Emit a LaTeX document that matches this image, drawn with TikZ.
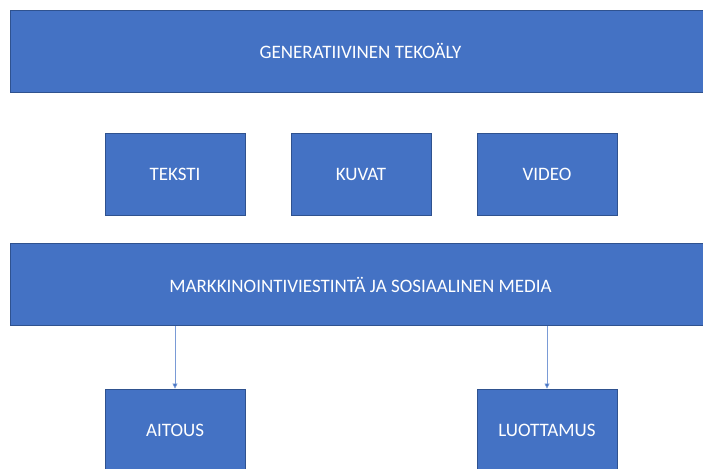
\documentclass[tikz,border=0pt]{standalone}
\usepackage{fontspec}
\setmainfont{Carlito}
\definecolor{boxblue}{HTML}{4472C4}
\definecolor{edgeblue}{HTML}{2F528F}
\definecolor{linkblue}{HTML}{7A9BD6}
\usetikzlibrary{arrows.meta}

\begin{document}
\begin{tikzpicture}[x = 1pt, y = -1pt,
    bar/.style = {draw = edgeblue, fill = boxblue, line width = 0.8pt, text = white,
        minimum width = 701pt, minimum height = 82pt, inner sep = 0pt, font = \fontsize{19}{21}\selectfont},
    item/.style = {draw = edgeblue, fill = boxblue, line width = 0.8pt, text = white,
        minimum width = 140pt, minimum height = 82pt, inner sep = 0pt, font = \fontsize{19}{21}\selectfont},
    link/.style = {draw = linkblue, line width = 0.6pt, -{Triangle[length = 5pt, width = 5pt, fill = boxblue]}}]
    \useasboundingbox (0,0) rectangle (703,468);
    \node [bar] (GEN) at (360.5,51) {GENERATIIVINEN TEKOÄLY};
    \node [item] (TEKSTI) at (175,174) {TEKSTI};
    \node [item] (KUVAT) at (361,174) {KUVAT};
    \node [item] (VIDEO) at (547,174) {VIDEO};
    \node [bar] (MARK) at (360.5,284.5) {MARKKINOINTIVIESTINTÄ JA SOSIAALINEN MEDIA};
    \node [item] (AITOUS) at (175,430) {AITOUS};
    \node [item] (LUOTTAMUS) at (547,430) {LUOTTAMUS};
    \draw [link] (MARK.south -| AITOUS.north) -- (AITOUS.north);
    \draw [link] (MARK.south -| LUOTTAMUS.north) -- (LUOTTAMUS.north);
\end{tikzpicture}
\end{document}
